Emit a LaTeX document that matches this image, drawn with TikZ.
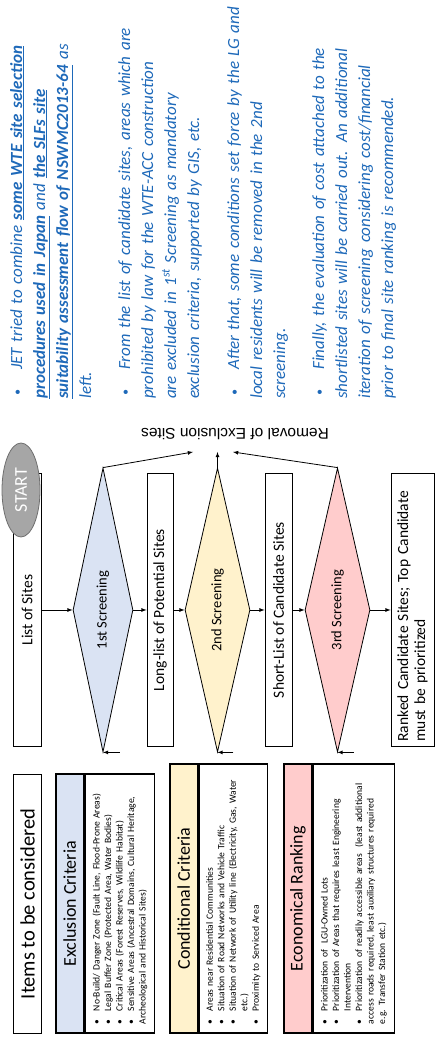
\documentclass[tikz,border=0pt]{standalone}
\usepackage{fontspec}
\setmainfont{Carlito}
\newfontfamily\arialfont{Liberation Sans}
\usepackage{tikz}
\usetikzlibrary{shapes.geometric,positioning}
\definecolor{noteblue}{RGB}{30,105,185}
\definecolor{exclblue}{RGB}{218,227,243}
\definecolor{condyel}{RGB}{255,242,204}
\definecolor{econpink}{RGB}{255,204,204}
\definecolor{startgray}{RGB}{166,166,166}
\definecolor{startline}{RGB}{110,110,110}
\newcommand{\bitem}[1]{\noindent\hangindent=#1\hangafter=1\makebox[#1][l]{\textbullet}}
\newcommand{\nitem}[1]{\noindent\hangindent=#1\hangafter=1\makebox[#1][l]{\hspace{3pt}\raisebox{1pt}{\scalebox{0.7}{\textbullet}}}}
\newcommand{\ulb}[1]{\underline{\textbf{#1}}}

\begin{document}
\begin{tikzpicture}[>=latex, x=1pt, y=1pt, rotate=90, transform shape,
  flowbox/.style={draw, line width=0.8pt, minimum width=273pt, inner sep=0pt, font=\fontsize{15.5}{18}\selectfont},
  screen/.style={diamond, draw, line width=0.8pt, minimum width=284pt, aspect=4, inner sep=0pt, font=\fontsize{14.5}{17}\selectfont},
  crithead/.style={draw, line width=1.6pt, anchor=north west, minimum height=28pt, inner sep=0pt, font=\fontsize{18}{22}\selectfont},
  critbody/.style={draw, line width=1.6pt, anchor=north west, inner xsep=9pt, inner ysep=3pt, align=left, font=\fontsize{9.6}{11.5}\selectfont},
  note/.style={anchor=base west, inner sep=0pt, text width=440pt, align=left, text=noteblue, font=\fontsize{17}{23}\selectfont\itshape},
  arr/.style={->, line width=0.8pt}]
\useasboundingbox (0,0) rectangle (1040,-435);

\node[draw, line width=1.2pt, anchor=north west, minimum width=259pt, minimum height=28pt, inner sep=0pt, font=\fontsize{20.5}{24}\selectfont] (itm) at (6,-13) {Items to be considered};

\node[crithead, fill=exclblue, minimum width=259pt] (exh) at (6,-55) {Exclusion Criteria};
\node[critbody, text width=241pt, minimum height=69pt, at={(exh.south west)}] (exb) {%
\bitem{13pt}No-Build/ Danger Zone (Fault Line, Flood-Prone Areas)\par
\bitem{13pt}Legal Buffer Zone (Protected Area, Water Bodies)\par
\bitem{13pt}Critical Areas (Forest Reserves, Wildlife Habitat)\par
\bitem{13pt}Sensitive Areas (Ancestral Domains, Cultural Heritage,\newline Archeological and Historical Sites)};

\node[crithead, fill=condyel, minimum width=269pt] (coh) at (6,-169) {Conditional Criteria};
\node[critbody, text width=251pt, minimum height=68pt, at={(coh.south west)}] (cob) {%
\bitem{13pt}Areas near Residential Communities\par
\bitem{13pt}Situation of Road Networks and Vehicle Traffic\par
\bitem{13pt}Situation of Network of Utility line (Electricity, Gas, Water\newline etc.)\par
\bitem{13pt}Proximity to Serviced Area};

\node[crithead, fill=econpink, minimum width=269pt] (ech) at (6,-283) {Economical Ranking};
\node[critbody, text width=251pt, minimum height=81pt, at={(ech.south west)}] (ecb) {%
\bitem{13pt}Prioritization of \ LGU-Owned Lots\par
\bitem{13pt}Prioritization of Areas that requires least Engineering\newline Intervention\par
\bitem{13pt}Prioritization of readily accessible areas \ (least additional\newline access roads required, least auxiliary structures required\newline e.g. Transfer Station etc.)};

\node[flowbox, minimum height=28pt] (lst) at (430,-27) {List of Sites};
\node[ellipse, draw=startline, line width=0.8pt, fill=startgray, text=white, minimum width=94pt, minimum height=38pt, inner sep=0pt, font=\fontsize{18}{20}\selectfont] (start) at (550,-21) {START};
\node[screen, fill=exclblue, minimum height=60pt] (scr1) at (430,-103) {1st Screening};
\node[flowbox, minimum height=26pt] (llst) at (430,-160) {Long-list of Potential Sites};
\node[screen, fill=condyel, minimum height=65pt] (scr2) at (430,-217.5) {2nd Screening};
\node[flowbox, minimum height=27pt] (slst) at (430,-278.5) {Short-List of Candidate Sites};
\node[screen, fill=econpink, minimum height=65pt] (scr3) at (430,-337.5) {3rd Screening};
\node[flowbox, minimum height=43pt, text width=263pt, inner xsep=5pt, align=left, font=\fontsize{15.5}{17}\selectfont] (rank) at (430,-412.5) {Ranked Candidate Sites; Top Candidate\\must be prioritized};

\node[rotate=90, inner sep=0pt, font=\arialfont\fontsize{15.5}{18}\selectfont] (rem) at (606,-235) {Removal of Exclusion Sites};
\coordinate (e1) at (588,-193);
\coordinate (e2) at (588,-217.5);
\coordinate (e3) at (588,-233);

\draw[arr] (lst) -- (scr1);
\draw[arr] (scr1) -- (llst);
\draw[arr] (llst) -- (scr2);
\draw[arr] (scr2) -- (slst);
\draw[arr] (slst) -- (scr3);
\draw[arr] (scr3) -- (rank);
\draw[arr] (scr1.west |- exb.east) -- (scr1.west);
\draw[arr] (scr2.west |- cob.east) -- (scr2.west);
\draw[arr] (scr3.west |- ecb.east) -- (scr3.west);
\draw[arr] (scr1.east) -- (e1);
\draw[arr] (scr2.east) -- (e2);
\draw[arr] (scr3.east) -- (e3);

\node[note] (p1) at (641,-22) {\nitem{29pt}JET tried to combine \ulb{some WTE site selection}\newline\ulb{procedures used in Japan} and \ulb{the SLFs site}\newline\ulb{suitability assessment flow of NSWMC2013-64} as\newline left.};
\node[note] (p2) at (641,-130) {\nitem{29pt}From the list of candidate sites, areas which are\newline prohibited by law for the WTE-ACC construction\newline are excluded in 1\textsuperscript{st} Screening as mandatory\newline exclusion criteria, supported by GIS, etc.};
\node[note] (p3) at (641,-239) {\nitem{29pt}After that, some conditions set force by the LG and\newline local residents will be removed in the 2nd\newline screening.};
\node[note] (p4) at (641,-324) {\nitem{29pt}Finally, the evaluation of cost attached to the\newline shortlisted sites will be carried out. An additional\newline iteration of screening considering cost/financial\newline prior to final site ranking is recommended.};
\end{tikzpicture}
\end{document}
